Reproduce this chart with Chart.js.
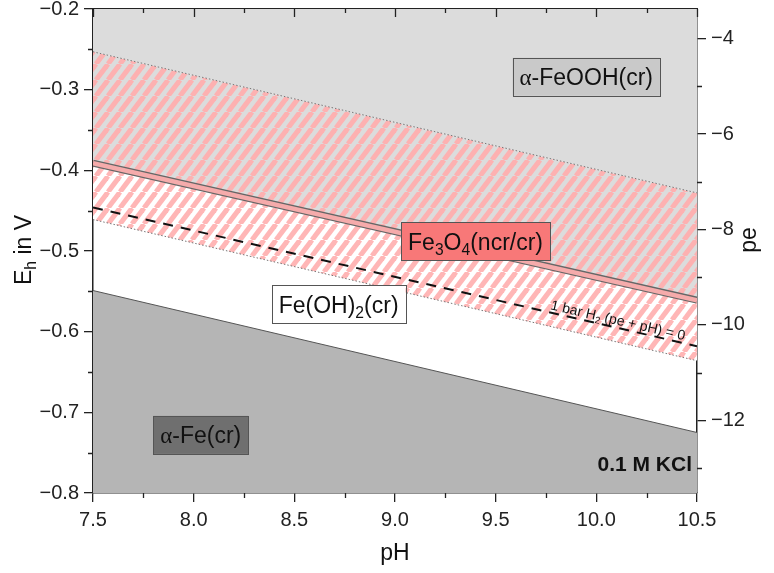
<!DOCTYPE html>
<html>
<head>
<meta charset="utf-8">
<title>Fe Pourbaix diagram, 0.1 M KCl</title>
<script src="https://cdn.jsdelivr.net/npm/chart.js@4.4.1/dist/chart.umd.min.js"></script>
<style>
  html, body { margin: 0; padding: 0; background: #fff; }
  #wrap { width: 774px; height: 573px; position: relative; }
</style>
</head>
<body>
<div id="wrap"><canvas id="chart"></canvas></div>
<script>
// pH range of every boundary line (two end points)
const ph = [7.5, 10.5]
// Eh (V) of the boundaries at pH 7.5 and 10.5
const feoohBound = [-0.253, -0.428]   // upper limit of Fe3O4 hatch
const magnetiteLine = [-0.391, -0.561] // double line
const magnetiteLow = [-0.461, -0.636]  // lower limit of Fe3O4 hatch
const h2Line = [-0.446, -0.618]        // 1 bar H2
const feBound = [-0.549, -0.725]       // alpha-Fe boundary

const xTicks = [7.5, 8.0, 8.5, 9.0, 9.5, 10.0, 10.5]
const xMinor = [7.75, 8.25, 8.75, 9.25, 9.75, 10.25]
const ehTicks = [-0.8, -0.7, -0.6, -0.5, -0.4, -0.3, -0.2]
const ehMinor = [-0.75, -0.65, -0.55, -0.45, -0.35, -0.25]
const peTicks = [-12, -10, -8, -6, -4]
const peMinor = [-13, -11, -9, -7, -5]
const peFactor = 0.05916

const FONT = "'Liberation Sans', Arial, sans-serif"
const SERIF = "'Liberation Serif', 'Times New Roman', serif"

function pts(ys) {
  return ph.map((x, i) => ({ x: x, y: ys[i] }))
}

function stripes(bg, fg) {
  const w = 12, h = 16
  const c = document.createElement('canvas')
  c.width = w
  c.height = h
  const g = c.getContext('2d')
  g.fillStyle = bg
  g.fillRect(0, 0, w, h)
  g.strokeStyle = fg
  g.lineWidth = 5
  for (const dx of [-w, 0, w]) {
    g.beginPath()
    g.moveTo(dx, h)
    g.lineTo(dx + w, 0)
    g.stroke()
  }
  return g.createPattern(c, 'repeat')
}

// phase labels: [parts], position in (pH, Eh), box colour
const phaseLabels = [
  { parts: [['α', 'g'], ['-FeOOH(cr)', 'n']], at: [9.95, -0.284], fill: '#c9c9c9' },
  { parts: [['Fe', 'n'], ['3', 's'], ['O', 'n'], ['4', 's'], ['(ncr/cr)', 'n']], at: [9.40, -0.488], fill: '#f87878' },
  { parts: [['Fe(OH)', 'n'], ['2', 's'], ['(cr)', 'n']], at: [8.72, -0.566], fill: '#ffffff' },
  { parts: [['α', 'g'], ['-Fe(cr)', 'n']], at: [8.035, -0.728], fill: '#6f6f6f' }
]

function partFont(kind, size) {
  if (kind === 's') return (size * 0.68) + 'px ' + FONT
  if (kind === 'g') return size + 'px ' + SERIF
  return size + 'px ' + FONT
}

function richWidth(ctx, parts, size) {
  let w = 0
  for (const [t, k] of parts) {
    ctx.font = partFont(k, size)
    w += ctx.measureText(t).width
  }
  return w
}

// draws parts starting at x, baseline y
function richDraw(ctx, parts, x, y, size) {
  ctx.textAlign = 'left'
  ctx.textBaseline = 'alphabetic'
  for (const [t, k] of parts) {
    ctx.font = partFont(k, size)
    ctx.fillText(t, x, k === 's' ? y + size * 0.22 : y)
    x += ctx.measureText(t).width
  }
}

const decor = {
  id: 'decor',
  afterDraw(chart) {
    const { ctx, chartArea: a, scales } = chart
    const sx = scales.x, sy = scales.y, sp = scales.y2
    ctx.save()
    ctx.strokeStyle = '#222'
    ctx.lineWidth = 1.3
    ctx.beginPath()
    for (const v of xMinor) {
      const p = Math.round(sx.getPixelForValue(v)) + 0.5
      ctx.moveTo(p, a.bottom); ctx.lineTo(p, a.bottom + 5)
      ctx.moveTo(p, a.top); ctx.lineTo(p, a.top + 4)
    }
    for (const v of xTicks) {
      const p = Math.round(sx.getPixelForValue(v)) + 0.5
      ctx.moveTo(p, a.top); ctx.lineTo(p, a.top + 8)
    }
    for (const v of ehMinor) {
      const p = Math.round(sy.getPixelForValue(v)) + 0.5
      ctx.moveTo(a.left - 5, p); ctx.lineTo(a.left, p)
    }
    for (const v of peMinor) {
      const p = Math.round(sp.getPixelForValue(v)) + 0.5
      ctx.moveTo(a.right, p); ctx.lineTo(a.right + 5, p)
    }
    ctx.stroke()

    // phase labels in boxes
    const size = 23
    for (const lab of phaseLabels) {
      const cx = sx.getPixelForValue(lab.at[0])
      const cy = sy.getPixelForValue(lab.at[1])
      const w = richWidth(ctx, lab.parts, size)
      const bw = w + 14, bh = 38
      ctx.fillStyle = lab.fill
      ctx.fillRect(cx - bw / 2, cy - bh / 2, bw, bh)
      ctx.strokeStyle = '#555'
      ctx.lineWidth = 1
      ctx.strokeRect(Math.round(cx - bw / 2) + 0.5, Math.round(cy - bh / 2) + 0.5, Math.round(bw), bh)
      ctx.fillStyle = '#111'
      richDraw(ctx, lab.parts, cx - w / 2, cy + size * 0.36, size)
    }

    // 1 bar H2 label along the dashed line
    const x0 = sx.getPixelForValue(ph[0]), y0 = sy.getPixelForValue(h2Line[0])
    const x1 = sx.getPixelForValue(ph[1]), y1 = sy.getPixelForValue(h2Line[1])
    const ang = Math.atan2(y1 - y0, x1 - x0)
    const hx = sx.getPixelForValue(10.1)
    const hy = y0 + (hx - x0) * (y1 - y0) / (x1 - x0)
    const hParts = [['1 bar H', 'n'], ['2', 's'], [' (pe + pH) = 0', 'n']]
    ctx.save()
    ctx.translate(hx, hy)
    ctx.rotate(ang)
    ctx.fillStyle = '#111'
    const hw = richWidth(ctx, hParts, 14)
    richDraw(ctx, hParts, -hw / 2, -3, 14)
    ctx.restore()

    // 0.1 M KCl
    ctx.font = 'bold 21px ' + FONT
    ctx.fillStyle = '#111'
    ctx.textAlign = 'right'
    ctx.textBaseline = 'middle'
    ctx.fillText('0.1 M KCl', a.right - 5, sy.getPixelForValue(-0.766))

    // axis titles
    ctx.font = '23px ' + FONT
    ctx.textAlign = 'center'
    ctx.textBaseline = 'middle'
    ctx.fillText('pH', (a.left + a.right) / 2, 554)

    ctx.save()
    ctx.translate(750, 240)
    ctx.rotate(-Math.PI / 2)
    ctx.fillText('pe', 0, 0)
    ctx.restore()

    ctx.save()
    ctx.translate(23, 250)
    ctx.rotate(-Math.PI / 2)
    const eParts = [['E', 'n'], ['h', 's'], [' in V', 'n']]
    const ew = richWidth(ctx, eParts, 23)
    richDraw(ctx, eParts, -ew / 2, 8, 23)
    ctx.restore()

    ctx.restore()
  }
}

const greyPink = stripes('#dcdcdc', '#fdb1b1')
const whitePink = stripes('#ffffff', '#ffb6b6')

const tickFont = { family: FONT, size: 20 }
const axisBorder = { display: true, color: '#222', width: 1.5 }

// fixed axis sizes, and no extra room for the end labels
function fixSize(w, h) {
  return s => {
    if (w !== null) s.width = w
    if (h !== null) s.height = h
    s.paddingTop = 0
    s.paddingBottom = 0
    s.paddingLeft = 0
    s.paddingRight = 0
  }
}

new Chart(document.getElementById('chart'), {
  type: 'line',
  data: {
    datasets: [
      { // 0 upper hatch boundary, grey above
        data: pts(feoohBound), borderColor: '#777', borderWidth: 1, borderDash: [1.5, 2],
        fill: 'end', backgroundColor: '#dcdcdc'
      },
      { // 1 magnetite double line (dark edges)
        data: pts(magnetiteLine), borderColor: '#666', borderWidth: 7,
        fill: { target: 0 }, backgroundColor: greyPink
      },
      { // 2 lower hatch boundary
        data: pts(magnetiteLow), borderColor: '#777', borderWidth: 1, borderDash: [1.5, 2],
        fill: { target: 1 }, backgroundColor: whitePink
      },
      { // 3 alpha-Fe boundary
        data: pts(feBound), borderColor: '#555', borderWidth: 1,
        fill: 'start', backgroundColor: '#b5b5b5'
      },
      { // 4 H2 line
        data: pts(h2Line), borderColor: '#111', borderWidth: 2, borderDash: [10, 8],
        fill: false, order: -1
      },
      { // 5 pink core of the double line
        data: pts(magnetiteLine), borderColor: '#f5abab', borderWidth: 4.5,
        fill: false, order: -2
      }
    ]
  },
  options: {
    responsive: true,
    maintainAspectRatio: false,
    animation: false,
    events: [],
    layout: { padding: { top: 9 }, autoPadding: false },
    elements: { point: { radius: 0 }, line: { tension: 0 } },
    plugins: {
      legend: { display: false },
      tooltip: { enabled: false },
      filler: { drawTime: 'beforeDatasetsDraw' }
    },
    scales: {
      x: {
        type: 'linear', position: 'bottom', min: 7.5, max: 10.5,
        afterBuildTicks: s => { s.ticks = xTicks.map(v => ({ value: v })) },
        afterFit: fixSize(null, 80),
        ticks: { font: tickFont, color: '#222', padding: 6, maxRotation: 0, callback: v => v.toFixed(1) },
        grid: { drawOnChartArea: false, tickLength: 9, color: '#222', lineWidth: 1.3 },
        border: axisBorder
      },
      xTop: {
        type: 'linear', position: 'top', min: 7.5, max: 10.5,
        afterFit: fixSize(null, 0),
        ticks: { display: false },
        grid: { display: false },
        border: axisBorder
      },
      y: {
        type: 'linear', position: 'left', min: -0.8, max: -0.2,
        afterBuildTicks: s => { s.ticks = ehTicks.map(v => ({ value: v })) },
        afterFit: fixSize(93, null),
        ticks: { font: tickFont, color: '#222', padding: 5, callback: v => '\u2212' + Math.abs(v).toFixed(1) },
        grid: { drawOnChartArea: false, tickLength: 9, color: '#222', lineWidth: 1.3 },
        border: axisBorder
      },
      y2: {
        type: 'linear', position: 'right', min: -0.8 / peFactor, max: -0.2 / peFactor,
        afterBuildTicks: s => { s.ticks = peTicks.map(v => ({ value: v })) },
        afterFit: fixSize(77, null),
        ticks: { font: tickFont, color: '#222', padding: 5, callback: v => '\u2212' + Math.abs(v) },
        grid: { drawOnChartArea: false, tickLength: 9, color: '#222', lineWidth: 1.3 },
        border: axisBorder
      }
    }
  },
  plugins: [decor]
})
</script>
</body>
</html>
